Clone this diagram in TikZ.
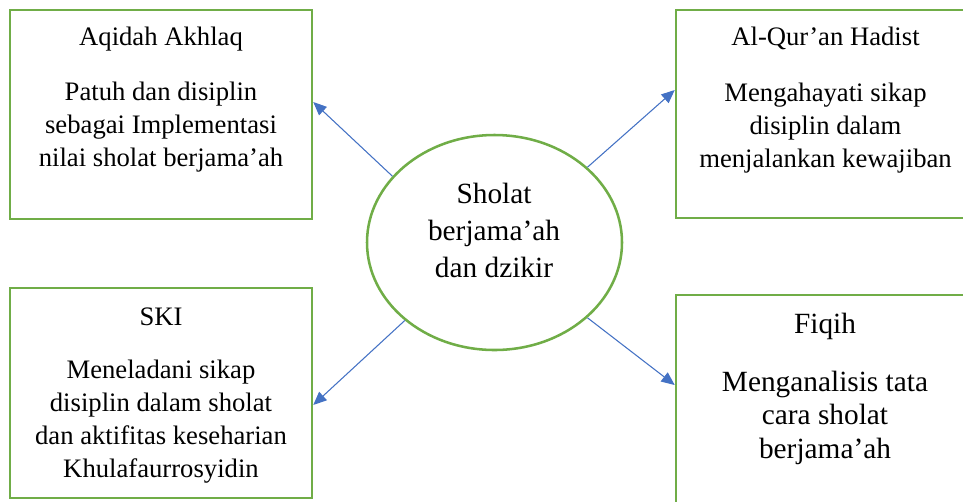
\documentclass[tikz,border=0pt]{standalone}
\usepackage{fontspec}
\setmainfont{Liberation Serif}
\usetikzlibrary{shapes.geometric,arrows.meta,calc}
\definecolor{grn}{HTML}{70AD47}
\definecolor{blu}{HTML}{4472C4}
\begin{document}
\begin{tikzpicture}[x=0.75pt,y=-0.75pt,
 boxnode/.style={draw=grn,line width=1.9pt,rectangle,inner sep=0pt},
 txt/.style={align=center,anchor=base,inner sep=0pt,font=\fontsize{20}{24.75}\selectfont},
 fqtxt/.style={align=center,anchor=base,inner sep=0pt,font=\fontsize{22}{25}\selectfont},
 eltxt/.style={align=center,anchor=base,inner sep=0pt,font=\fontsize{22}{27.5}\selectfont},
 conn/.style={draw=blu,line width=0.8pt,-{Triangle[length=10pt,width=8.5pt]}}]
\useasboundingbox (0,0) rectangle (963,501);
\clip (0,0) rectangle (963,501);
% boxes
\node[boxnode,minimum width=226.5pt,minimum height=156.75pt] (aq) at (161,114.5) {};
\node[boxnode,minimum width=224.25pt,minimum height=156pt] (qh) at (825.5,114) {};
\node[boxnode,minimum width=226.5pt,minimum height=157.5pt] (ski) at (161,393) {};
\node[boxnode,minimum width=224.25pt,minimum height=161.25pt] (fq) at (825.5,402.5) {};
\node[ellipse,draw=grn,line width=1.9pt,inner sep=0pt,minimum width=191.25pt,minimum height=161.25pt] (el) at (494.5,242.5) {};
% texts (anchor base = last line baseline)
\node[txt] (aqt) at (161,45) {Aqidah Akhlaq};
\node[txt] (aqb) at (161,166) {Patuh dan disiplin\\sebagai Implementasi\\nilai sholat berjama’ah};
\node[txt] (qht) at (825.5,45) {Al-Qur’an Hadist};
\node[txt] (qhb) at (825.5,167) {Mengahayati sikap\\disiplin dalam\\menjalankan kewajiban};
\node[txt] (skit) at (161,325) {SKI};
\node[txt] (skib) at (161,477) {Meneladani sikap\\disiplin dalam sholat\\dan aktifitas keseharian\\Khulafaurrosyidin};
\node[fqtxt] (fqt) at (825,333) {Fiqih};
\node[fqtxt] (fqb) at (825,458) {Menganalisis tata\\cara sholat\\berjama’ah};
\node[eltxt] (elt) at (494,277) {Sholat\\berjama’ah\\dan dzikir};
% connectors
\draw[conn] (el.147.2) -- ($(aq.east)+(0,-12.5)$);
\draw[conn] (el.39.9) -- ($(qh.west)+(0,-24)$);
\draw[conn] (el.221.1) -- ($(ski.east)+(0,12)$);
\draw[conn] (el.321.5) -- ($(fq.west)+(0,-17.5)$);
\end{tikzpicture}
\end{document}
